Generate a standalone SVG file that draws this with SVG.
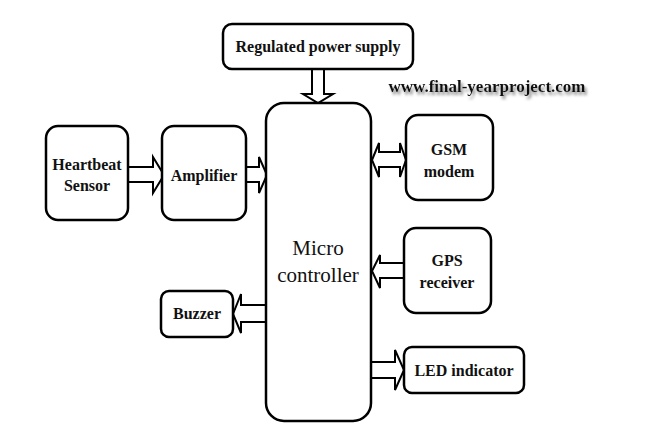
<svg xmlns="http://www.w3.org/2000/svg" width="645" height="438" viewBox="0 0 645 438">
<style>
.b{fill:#fff;stroke:#000;stroke-width:2.5}
.t{font-family:"Liberation Serif","Times New Roman",serif;font-weight:bold;font-size:16px;text-anchor:middle;fill:#111}
.a{fill:#fff;stroke:#000;stroke-width:2;stroke-linejoin:miter}
</style>
<defs>
<filter id="sh" x="-10%" y="-50%" width="120%" height="200%"><feDropShadow dx="2" dy="3" stdDeviation="1.5" flood-color="#888"/></filter>
</defs>
<rect width="645" height="438" fill="#fff"/>
<g id="connectors">
<polygon class="a" points="312,69 324,69 324,94 333,94 318,103 303,94 312,94"/>
<polygon class="a" points="128,167 153,167 153,157 164,175 153,193 153,182 128,182"/>
<polygon class="a" points="246,167 259,167 259,157 267,175 259,193 259,182 246,182"/>
<polygon class="a" points="372,160 379,143 379,152 400,152 400,143 406,160 400,177 400,167 379,167 379,177"/>
<polygon class="a" points="404,263 380,263 380,255 372,271 380,288 380,278 404,278"/>
<polygon class="a" points="266,305 241,305 241,294 233,314 241,333 241,322 266,322"/>
<polygon class="a" points="371,362 395,362 395,350 404,370 395,390 395,378 371,378"/>
</g>
<g id="power"><rect class="b" x="223" y="24" width="190" height="45" rx="9"/><text class="t" x="318" y="52">Regulated power supply</text></g>
<g id="micro"><rect class="b" x="266" y="103" width="105" height="318" rx="18"/><text class="t" x="318" y="255" style="font-weight:normal;font-size:21px">Micro</text><text class="t" x="318" y="282" style="font-weight:normal;font-size:21px">controller</text></g>
<g id="heartbeat"><rect class="b" x="46" y="126" width="82" height="94" rx="12"/><text class="t" x="87" y="170">Heartbeat</text><text class="t" x="87" y="191">Sensor</text></g>
<g id="amplifier"><rect class="b" x="162" y="126" width="84" height="94" rx="12"/><text class="t" x="204" y="181">Amplifier</text></g>
<g id="gsm"><rect class="b" x="406" y="115" width="87" height="85" rx="12"/><text class="t" x="449" y="155">GSM</text><text class="t" x="449" y="177">modem</text></g>
<g id="gps"><rect class="b" x="404" y="228" width="87" height="85" rx="12"/><text class="t" x="447" y="266">GPS</text><text class="t" x="447" y="288">receiver</text></g>
<g id="buzzer"><rect class="b" x="161" y="291" width="72" height="46" rx="8"/><text class="t" x="197" y="319">Buzzer</text></g>
<g id="led"><rect class="b" x="404" y="347" width="120" height="46" rx="8"/><text class="t" x="464" y="376">LED indicator</text></g>
<text class="t" x="487" y="92" style="font-size:17px" filter="url(#sh)">www.final-yearproject.com</text>
</svg>
